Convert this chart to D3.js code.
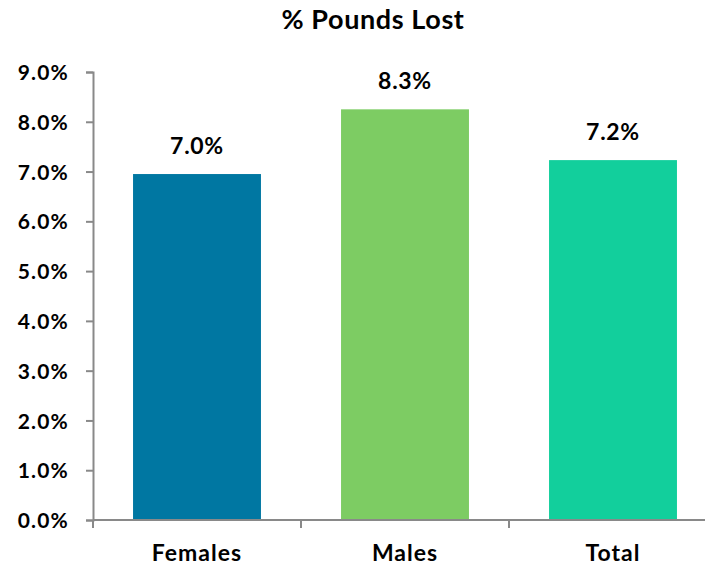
<!DOCTYPE html>
<html>
<head>
<meta charset="utf-8">
<script src="https://cdn.jsdelivr.net/npm/d3@7"></script>
<style>
  body { margin: 0; background: #fff; }
  text { font-family: Lato, "Open Sans", sans-serif; font-weight: bold; fill: #000; }
</style>
</head>
<body>
<svg id="chart" width="705" height="566"></svg>
<script>
// data
const categories = ["Females", "Males", "Total"];
const values = [6.95, 8.25, 7.23];
const valueLabels = ["7.0%", "8.3%", "7.2%"];
const colors = ["#0077A2", "#7DCC63", "#12CF9C"];
const yTicks = [0, 1, 2, 3, 4, 5, 6, 7, 8, 9];

const svg = d3.select("#chart");
const w = 705;
const margin = { top: 72, right: 0, bottom: 46, left: 93 };
const innerH = 566 - margin.top - margin.bottom;
const axisColor = "#898989";

// the plot area runs a bit past the right edge of the picture
const x = d3.scaleBand()
  .domain(categories)
  .range([margin.left, margin.left + 3 * 208])
  .paddingInner(0.385)
  .paddingOuter(0.1925);

const y = d3.scaleLinear()
  .domain([0, 9])
  .range([margin.top + innerH, margin.top]);

svg.append("text")
  .text("% Pounds Lost")
  .attr("x", 373)
  .attr("y", 29)
  .attr("text-anchor", "middle")
  .attr("font-size", "27px")
  .attr("letter-spacing", "0.6px");

// bars
svg.selectAll("rect.bar")
  .data(values)
  .enter()
  .append("rect")
  .attr("class", "bar")
  .attr("x", (d, i) => x(categories[i]))
  .attr("width", x.bandwidth())
  .attr("y", d => y(d))
  .attr("height", d => y(0) - y(d))
  .attr("fill", (d, i) => colors[i]);

svg.selectAll("text.val")
  .data(values)
  .enter()
  .append("text")
  .attr("class", "val")
  .text((d, i) => valueLabels[i])
  .attr("x", (d, i) => x(categories[i]) + x.bandwidth() / 2)
  .attr("y", d => y(d) - 20)
  .attr("text-anchor", "middle")
  .attr("font-size", "23px")
  .attr("letter-spacing", "0.7px");

// y axis
const yAxis = svg.append("g")
  .attr("transform", "translate(" + margin.left + ",0)")
  .call(d3.axisLeft(y).tickValues(yTicks).tickSize(7).tickPadding(17)
    .tickFormat(d => d.toFixed(1) + "%"));
yAxis.selectAll("text")
  .attr("font-size", "21px")
  .attr("letter-spacing", "1.2px")
  .attr("dy", "0.36em");
yAxis.select(".domain").attr("stroke", axisColor).attr("stroke-width", 2);
yAxis.selectAll(".tick line").attr("stroke", axisColor).attr("stroke-width", 2);

// x axis, ticks at category boundaries
const xAxis = svg.append("g")
  .attr("transform", "translate(0," + y(0) + ")");
xAxis.append("line")
  .attr("x1", margin.left).attr("x2", w)
  .attr("stroke", axisColor).attr("stroke-width", 2);
const step = x.step();
const bounds = categories.map((c, i) => x(c) - x.paddingInner() * step / 2);
bounds[0] = margin.left;
xAxis.selectAll("line.tick")
  .data(bounds)
  .enter()
  .append("line")
  .attr("class", "tick")
  .attr("x1", d => d).attr("x2", d => d)
  .attr("y1", 0).attr("y2", 8)
  .attr("stroke", axisColor).attr("stroke-width", 2);
xAxis.selectAll("text.cat")
  .data(categories)
  .enter()
  .append("text")
  .attr("class", "cat")
  .text(d => d)
  .attr("x", d => x(d) + x.bandwidth() / 2)
  .attr("y", 41)
  .attr("text-anchor", "middle")
  .attr("font-size", "23px")
  .attr("letter-spacing", "1px");
</script>
</body>
</html>
